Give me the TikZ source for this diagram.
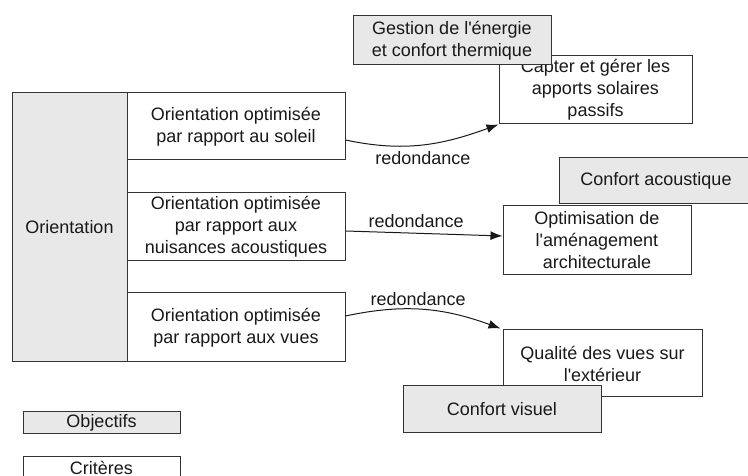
\documentclass[tikz,border=0pt]{standalone}
\usepackage{fontspec}
\newfontfamily\helvfont{Liberation Sans}
\usetikzlibrary{arrows.meta}

\begin{document}
\begin{tikzpicture}%
        [x=1pt, y=1pt,
        every node/.style={font=\helvfont\fontsize{18}{22}\selectfont, text=black!90},
        objectif/.style={draw=black!80, line width=1pt, fill=black!9, align=center, inner sep=0pt},
        critere/.style={draw=black!80, line width=1pt, fill=white, align=center, inner sep=0pt},
        link/.style={color=black!90, line width=1pt, -{Latex[length=12pt,width=9pt]}},
        lbl/.style={inner sep=2pt}]

    \useasboundingbox (0,0) rectangle (748,476);
    %% Theme and its criteria
    \node[objectif, minimum width=115, minimum height=269] (orient) at (69.5, 248.5) {Orientation};
    \node[critere, minimum width=218, minimum height=67] (crit1) at (236, 349.5) {Orientation optimis\'ee\\par rapport au soleil};
    \node[critere, minimum width=218, minimum height=68] (crit2) at (236, 249) {Orientation optimis\'ee\\par rapport aux\\nuisances acoustiques};
    \node[critere, minimum width=218, minimum height=69] (crit3) at (236, 148.5) {Orientation optimis\'ee\\par rapport aux vues};
    %%
    %% Targets
    %%
    \node[critere, minimum width=193, minimum height=68] (capter) at (595.5, 386) {Capter et g\'erer les\\apports solaires\\passifs};
    \node[objectif, minimum width=198, minimum height=49] (gestion) at (452, 435.5) {Gestion de l'\'energie\\et confort thermique};
    \node[critere, minimum width=188, minimum height=69] (optim) at (597, 235.5) {Optimisation de\\l'am\'enagement\\architecturale};
    \node[objectif, minimum width=194, minimum height=46] (acoust) at (656, 295) {Confort acoustique};
    \node[critere, minimum width=199, minimum height=67] (qualite) at (602.5, 112.5) {Qualit\'e des vues sur\\l'ext\'erieur};
    \node[objectif, minimum width=198, minimum height=47] (visuel) at (502, 66.5) {Confort visuel};
    %%
    %% Legend
    %%
    \node[objectif, minimum width=157, minimum height=22] (legobj) at (101.5, 53) {Objectifs};
    \node[critere, minimum width=157, minimum height=22] (legcrit) at (101.5, 8) {Crit\`eres};
    %%
    %% Links
    %%
    \draw[link] ([yshift=-13.5]crit1.east) to[out=-12, in=200]
        node[lbl, pos=0.5, below=4pt] (red1) {redondance} (capter.south west);
    \draw[link] ([yshift=-4]crit2.east) -- node[lbl, pos=0.45, above=3pt] (red2) {redondance} ([yshift=4.5]optim.west);
    \draw[link] ([yshift=11.5]crit3.east) to[out=12, in=160]
        node[lbl, pos=0.46, above=1pt] (red3) {redondance} ([xshift=-2,yshift=1]qualite.north west);
    %%
\end{tikzpicture}
\end{document}
